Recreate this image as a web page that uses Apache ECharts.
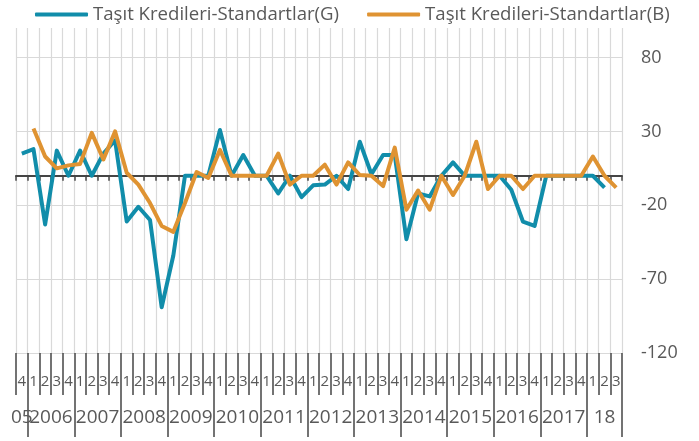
<!DOCTYPE html>
<html>
<head>
<meta charset="utf-8">
<script src="https://cdn.jsdelivr.net/npm/echarts@6/dist/echarts.min.js"></script>
<style>
  html, body { margin: 0; padding: 0; background: #fff; }
  #chart { width: 699px; height: 441px; }
</style>
</head>
<body>
<div id="chart"></div>
<script>
// quarter labels, one per category
const quarters = [
  "4",
  "1", "2", "3", "4", "1", "2", "3", "4", "1", "2", "3", "4",
  "1", "2", "3", "4", "1", "2", "3", "4", "1", "2", "3", "4",
  "1", "2", "3", "4", "1", "2", "3", "4", "1", "2", "3", "4",
  "1", "2", "3", "4", "1", "2", "3", "4", "1", "2", "3", "4",
  "1", "2", "3",
];
// year labels and how many quarters each one spans
const years = ["05", "2006", "2007", "2008", "2009", "2010", "2011", "2012",
  "2013", "2014", "2015", "2016", "2017", "18"];
const yearSpans = [1, 4, 4, 4, 4, 4, 4, 4, 4, 4, 4, 4, 4, 3];

const seriesG = [
  15, 18, -33, 17, 0, 17, 0, 15, 24, -31, -21, -30, -89,
  -54, 0, 0, 0, 31, 0, 14, 0, 0, -12, 0, -14.5, -6.5,
  -6, 0, -9, 23, 1, 14, 14, -43, -12, -14, 0, 9, 0,
  0, 0, 0, -9.5, -31, -34, 0, 0, 0, 0, 0, -8, null,
];
const seriesB = [
  null, 32, 13, 5, 7, 8, 29, 11, 30, 2, -6, -18.5, -34,
  -38, -18.5, 2.5, -1.5, 17.5, 0, 0, 0, 0, 15, -6, 0, 0,
  7.5, -6, 9, 0.5, 0, -7, 19, -23, -10, -23, 0, -13, 0,
  23, -9, 0, 0, -9, 0, 0, 0, 0, 0, 13, 0, -8,
];

const FONT = "Open Sans";
const TEXT = "#595959";
const DARK = "#454545";
const COLOR_G = "#118DAA";
const COLOR_B = "#DF9332";

// year boundaries and centres on a 0..52 value scale
const yearBounds = [0];
const yearCenters = [];
yearSpans.forEach((n, i) => {
  const start = yearBounds[i];
  yearBounds.push(start + n);
  yearCenters.push(start + n / 2);
});

const chart = echarts.init(document.getElementById("chart"));

chart.setOption({
  animation: false,
  backgroundColor: "#fff",
  textStyle: { fontFamily: FONT },
  legend: {
    left: 30,
    top: 0,
    icon: "roundRect",
    itemWidth: 53,
    itemHeight: 4,
    itemGap: 28,
    textStyle: { fontFamily: FONT, fontSize: 18.6, color: TEXT },
    data: ["Taşıt Kredileri-Standartlar(G)", "Taşıt Kredileri-Standartlar(B)"],
  },
  grid: {
    left: 16,
    right: 77,
    top: 28,
    bottom: 88,
    containLabel: false,
    outerBoundsMode: "none",
  },
  xAxis: [
    {
      // zero line with small ticks and the vertical grid
      type: "category",
      data: quarters,
      boundaryGap: true,
      axisLine: { onZero: true, lineStyle: { color: DARK, width: 2 } },
      axisTick: { show: true, length: 5, lineStyle: { color: DARK, width: 1.5 } },
      axisLabel: { show: false },
      splitLine: { show: true, lineStyle: { color: "#D9D9D9", width: 1.2 } },
    },
    {
      // quarter labels below the plot
      type: "category",
      data: quarters,
      position: "bottom",
      boundaryGap: true,
      axisLine: { show: false, onZero: false },
      axisTick: { show: true, length: 42, lineStyle: { color: DARK, width: 1.5 } },
      axisLabel: {
        interval: 0,
        margin: 21,
        fontFamily: FONT,
        fontSize: 15,
        color: TEXT,
      },
      splitLine: { show: false },
    },
    {
      // year labels; an empty label at 0 takes the min-label slot so no year gets dropped
      type: "value",
      min: 0,
      max: quarters.length,
      position: "bottom",
      axisLine: { show: false, onZero: false },
      axisTick: {
        show: true,
        length: 84,
        customValues: yearBounds,
        lineStyle: { color: DARK, width: 1.5 },
      },
      axisLabel: {
        customValues: [0].concat(yearCenters),
        showMinLabel: false,
        showMaxLabel: true,
        hideOverlap: false,
        margin: 55,
        fontFamily: FONT,
        fontSize: 19,
        color: TEXT,
        formatter: (v) => {
          const i = yearCenters.findIndex((c) => Math.abs(c - v) < 1e-6);
          return i >= 0 ? years[i] : "";
        },
      },
      splitLine: { show: false },
    },
  ],
  yAxis: {
    type: "value",
    position: "right",
    min: -120,
    max: 100,
    interval: 50,
    axisLine: { show: false },
    axisTick: { show: false },
    axisLabel: {
      showMaxLabel: false,
      margin: 19,
      fontFamily: FONT,
      fontSize: 18,
      color: TEXT,
    },
    splitLine: {
      show: true,
      showMaxLine: false,
      lineStyle: { color: "#D9D9D9", width: 1.2 },
    },
  },
  series: [
    {
      name: "Taşıt Kredileri-Standartlar(G)",
      type: "line",
      xAxisIndex: 0,
      data: seriesG,
      symbol: "none",
      lineStyle: { color: COLOR_G, width: 4, join: "round" },
      itemStyle: { color: COLOR_G },
    },
    {
      name: "Taşıt Kredileri-Standartlar(B)",
      type: "line",
      xAxisIndex: 0,
      data: seriesB,
      symbol: "none",
      lineStyle: { color: COLOR_B, width: 4, join: "round" },
      itemStyle: { color: COLOR_B },
    },
  ],
});
</script>
</body>
</html>
